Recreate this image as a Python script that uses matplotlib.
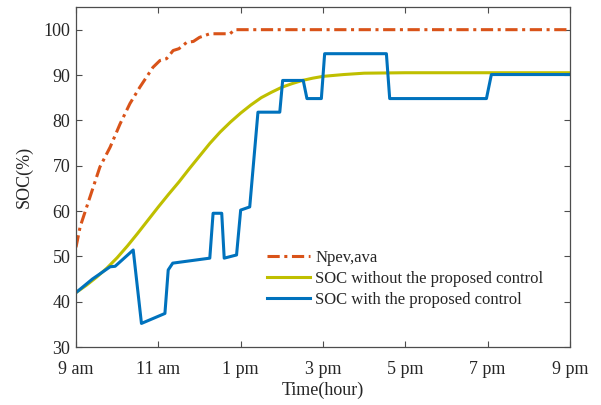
import matplotlib
matplotlib.use("Agg")
import matplotlib.pyplot as plt

# ---- data (hours since midnight) ----
npev_t = [9.0, 9.1, 9.34, 9.58, 9.83, 10.07, 10.31, 10.55, 10.87, 11.04, 11.2, 11.36,
          11.5, 11.69, 11.85, 12.0, 12.25, 12.74, 12.86, 21.0]
npev_v = [52.0, 56.5, 63.1, 69.7, 74.1, 79.2, 83.7, 87.3, 91.7, 93.2, 93.6, 95.4,
          95.8, 97.2, 97.4, 98.3, 99.1, 99.1, 100.0, 100.0]

soc_wo_t = [9.0, 9.25, 9.5, 9.75, 10.0, 10.25, 10.5, 10.75, 11.0, 11.25, 11.5, 11.75,
            12.0, 12.25, 12.5, 12.75, 13.0, 13.25, 13.5, 13.75, 14.0, 14.25, 14.5,
            14.75, 15.0, 15.5, 16.0, 17.0, 21.0]
soc_wo_v = [42.0, 43.6, 45.4, 47.4, 49.7, 52.3, 55.1, 58.0, 60.9, 63.7, 66.4, 69.3,
            72.1, 74.9, 77.4, 79.6, 81.6, 83.4, 85.0, 86.2, 87.3, 88.1, 88.8,
            89.3, 89.7, 90.1, 90.4, 90.5, 90.5]

soc_w_t = [9.0, 9.4, 9.83, 9.95, 10.39, 10.59, 11.16, 11.24, 11.35, 12.25, 12.33, 12.54,
           12.6, 12.9, 13.0, 13.22, 13.42, 13.95, 14.02, 14.52, 14.61, 14.96, 15.04,
           16.54, 16.62, 18.97, 19.09, 21.0]
soc_w_v = [42.0, 45.0, 47.7, 47.8, 51.4, 35.2, 37.4, 47.0, 48.5, 49.6, 59.5, 59.5,
           49.6, 50.3, 60.2, 60.9, 81.8, 81.8, 88.8, 88.8, 84.8, 84.8, 94.7,
           94.7, 84.8, 84.8, 90.1, 90.1]

xticks = [9, 11, 13, 15, 17, 19, 21]
xticklabels = ["9 am", "11 am", "1 pm", "3 pm", "5 pm", "7 pm", "9 pm"]
yticks = [30, 40, 50, 60, 70, 80, 90, 100]

plt.rcParams['font.family'] = ['Liberation Serif', 'DejaVu Serif']

fig = plt.figure(figsize=(6.01, 4.05), dpi=100)
ax = fig.add_axes([76/601, 1-347/405, (570-76)/601, (347-7)/405])

ax.plot(npev_t, npev_v, color='#D95319', lw=2.2, ls=(0, (4, 1.5, 1, 1.5)),
        label='Npev,ava')
ax.plot(soc_wo_t, soc_wo_v, color='#BFBF00', lw=2.2, label='SOC without the proposed control')
ax.plot(soc_w_t, soc_w_v, color='#0072BD', lw=2.2, label='SOC with the proposed control')

ax.set_xlim(9, 21)
ax.set_ylim(30, 105)
ax.set_xticks(xticks)
ax.set_xticklabels(xticklabels)
ax.set_yticks(yticks)

for s in ax.spines.values():
    s.set_color('#4d4d4d')
    s.set_linewidth(0.9)
ax.tick_params(direction='in', top=True, right=True, length=4, width=0.8,
               color='#4d4d4d', labelsize=13, labelcolor='#262626')
ax.tick_params(axis='x', pad=10)
ax.tick_params(axis='y', pad=4)

ax.set_xlabel('Time(hour)', fontsize=13, color='#262626', labelpad=3)
ax.set_ylabel('SOC(%)', fontsize=13, color='#262626', labelpad=8)

leg = ax.legend(loc='lower left', bbox_to_anchor=(0.373, 0.095), frameon=False,
                fontsize=12, handlelength=2.6, handletextpad=0.3, labelspacing=0.3,
                borderaxespad=0)
for t in leg.get_texts():
    t.set_color('#262626')

fig.savefig('out.png', dpi=100)
